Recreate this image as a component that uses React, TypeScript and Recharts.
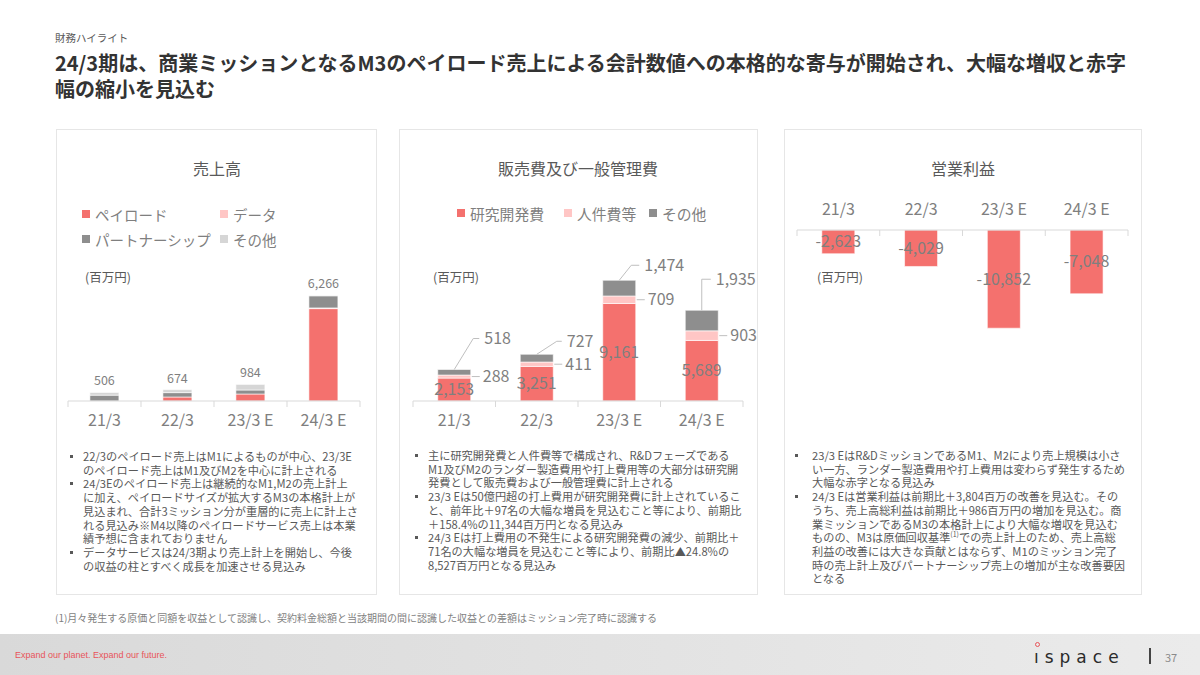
import React from "react";
import { Bar, BarChart, LabelList, XAxis, YAxis } from "recharts";

const PERIODS = ["21/3", "22/3", "23/3 E", "24/3 E"];

// 売上高 (百万円)
const SALES_PAYLOAD = [0, 237, 415, 5480];
const SALES_DATA = [0, 0, 0, 40];
const SALES_PARTNERSHIP = [346, 260, 237, 720];
const SALES_OTHER = [160, 177, 332, 26];
const SALES_TOTAL = [506, 674, 984, 6266];

// 販売費及び一般管理費 (百万円)
const SGA_RD = [2153, 3251, 9161, 5689];
const SGA_PERSONNEL = [288, 411, 709, 903];
const SGA_OTHER = [518, 727, 1474, 1935];

// 営業利益 (百万円)
const OP_INCOME = [-2623, -4029, -10852, -7048];

const RED = "#F4716E";
const PINK = "#FFC6C5";
const DARK_GRAY = "#8E8E8E";
const LIGHT_GRAY = "#D6D6D6";
const TEXT_GRAY = "#7F7F7F";
const TEXT_DARK = "#595959";
const LINE_GRAY = "#D9D9D9";
const FONT = '"Noto Sans CJK JP", "Noto Sans", sans-serif';

// leader-line placement for the その他 labels (relative to bar top centre)
const SGA_LEADERS = [
  { ex: 19, ey: -31, tx: 30 },
  { ex: 20, ey: -13, tx: 30 },
  { ex: 12, ey: -15, tx: 25 },
  { ex: 0, ey: -31, tx: 14 },
];

const salesRows = PERIODS.map((period, i) => ({
  period,
  pl: SALES_PAYLOAD[i],
  dt: SALES_DATA[i],
  pt: SALES_PARTNERSHIP[i],
  ot: SALES_OTHER[i],
}));

const sgaRows = PERIODS.map((period, i) => ({
  period,
  rd: SGA_RD[i],
  hr: SGA_PERSONNEL[i],
  ot: SGA_OTHER[i],
}));

const opRows = PERIODS.map((period, i) => ({ period, op: OP_INCOME[i] }));

const fmt = (v: number) => v.toLocaleString("en-US");

function box(p: any) {
  const v = p.viewBox && p.viewBox.width != null ? p.viewBox : p;
  return {
    x: Number(v.x ?? 0),
    y: Number(v.y ?? 0),
    width: Number(v.width ?? 0),
    height: Number(v.height ?? 0),
  };
}

function CategoryTick(props: any) {
  const { x, y, payload, index, band, top } = props;
  const last = index === PERIODS.length - 1;
  return (
    <g>
      <line x1={x - band / 2} x2={x - band / 2} y1={y} y2={y + 6} stroke={LINE_GRAY} />
      {last && <line x1={x + band / 2} x2={x + band / 2} y1={y} y2={y + 6} stroke={LINE_GRAY} />}
      <text
        x={x}
        y={top ? y - 15 : y + 25}
        textAnchor="middle"
        fill={TEXT_GRAY}
        fontSize={16}
        fontFamily={FONT}
      >
        {payload.value}
      </text>
    </g>
  );
}

function SalesTotalLabel(props: any) {
  const b = box(props);
  return (
    <text
      x={b.x + b.width / 2}
      y={b.y - 7}
      textAnchor="middle"
      fill={TEXT_GRAY}
      fontSize={12.5}
      fontFamily={FONT}
    >
      {fmt(SALES_TOTAL[props.index])}
    </text>
  );
}

function CenterLabel(props: any) {
  const b = box(props);
  return (
    <text
      x={b.x + b.width / 2}
      y={b.y + b.height / 2}
      dy={5.5}
      textAnchor="middle"
      fill={TEXT_GRAY}
      fontSize={16}
      fontFamily={FONT}
    >
      {fmt(Number(props.value))}
    </text>
  );
}

function SideLabel(props: any) {
  const b = box(props);
  const cy = b.y + b.height / 2;
  const rx = b.x + b.width;
  return (
    <g>
      <line x1={rx + 1} x2={rx + 9} y1={cy} y2={cy} stroke="#BFBFBF" />
      <text x={rx + 12} y={cy} dy={5.5} fill={TEXT_GRAY} fontSize={16} fontFamily={FONT}>
        {fmt(Number(props.value))}
      </text>
    </g>
  );
}

function LeaderLabel(props: any) {
  const b = box(props);
  const o = SGA_LEADERS[props.index];
  const cx = b.x + b.width / 2;
  const top = b.y;
  const ly = top + o.ey;
  return (
    <g>
      <polyline
        points={`${cx},${top} ${cx + o.ex},${ly} ${cx + o.tx - 5},${ly}`}
        fill="none"
        stroke="#BFBFBF"
      />
      <text x={cx + o.tx} y={ly} dy={5.5} fill={TEXT_GRAY} fontSize={16} fontFamily={FONT}>
        {fmt(Number(props.value))}
      </text>
    </g>
  );
}

function LegendItem({ color, label, x, y, size }: any) {
  return (
    <div
      style={{
        position: "absolute",
        left: x,
        top: y - 11,
        height: 22,
        display: "flex",
        alignItems: "center",
        fontSize: size,
        color: TEXT_GRAY,
        whiteSpace: "nowrap",
      }}
    >
      <span style={{ width: 8, height: 8, background: color, marginRight: 5, display: "inline-block" }} />
      {label}
    </div>
  );
}

function Bullets({ left, top, pad, items }: any) {
  return (
    <div
      style={{
        position: "absolute",
        left,
        top,
        fontSize: 11.2,
        lineHeight: "13.7px",
        color: TEXT_DARK,
        whiteSpace: "nowrap",
      }}
    >
      {items.map((lines: React.ReactNode[], i: number) => (
        <div key={i} style={{ position: "relative", paddingLeft: pad }}>
          <span
            style={{
              position: "absolute",
              left: 0,
              top: 5,
              width: 3,
              height: 3,
              background: TEXT_DARK,
            }}
          />
          {lines.map((l, j) => (
            <div key={j}>{l}</div>
          ))}
        </div>
      ))}
    </div>
  );
}

const Panel = ({ left, width }: { left: number; width: number }) => (
  <div
    style={{
      position: "absolute",
      left,
      top: 129,
      width,
      height: 466,
      boxSizing: "border-box",
      border: "1.5px solid #E6E6E6",
      background: "#fff",
    }}
  />
);

const centered = (x: number, y: number, size: number, text: string) => (
  <div
    style={{
      position: "absolute",
      left: x - 150,
      width: 300,
      top: y - size * 0.75,
      textAlign: "center",
      fontSize: size,
      color: TEXT_DARK,
      lineHeight: `${size * 1.5}px`,
    }}
  >
    {text}
  </div>
);

const unit = (x: number, y: number) => (
  <div style={{ position: "absolute", left: x, top: y - 9, fontSize: 12.5, color: TEXT_DARK, lineHeight: "18px" }}>
    (百万円)
  </div>
);

export default function App() {
  return (
    <div
      style={{
        position: "absolute",
        left: 0,
        top: 0,
        width: 1200,
        height: 675,
        overflow: "hidden",
        background: "#fff",
        fontFamily: FONT,
      }}
    >
      <div style={{ position: "absolute", left: 55, top: 31, fontSize: 10.5, color: TEXT_DARK, lineHeight: "14px" }}>
        財務ハイライト
      </div>
      <div
        style={{
          position: "absolute",
          left: 55,
          top: 51,
          fontSize: 20,
          fontWeight: 700,
          color: "#333",
          lineHeight: "24px",
          whiteSpace: "nowrap",
        }}
      >
        24/3期は、商業ミッションとなるM3のペイロード売上による会計数値への本格的な寄与が開始され、大幅な増収と赤字
      </div>
      <div
        style={{
          position: "absolute",
          left: 55,
          top: 77,
          fontSize: 20,
          fontWeight: 700,
          color: "#333",
          lineHeight: "24px",
          whiteSpace: "nowrap",
        }}
      >
        幅の縮小を見込む
      </div>

      <Panel left={56} width={321} />
      <Panel left={399} width={359} />
      <Panel left={784} width={358} />

      {centered(217, 168, 16, "売上高")}
      {centered(578, 168, 16, "販売費及び一般管理費")}
      {centered(963, 168, 16, "営業利益")}

      <LegendItem color={RED} label="ペイロード" x={82} y={214} size={14.5} />
      <LegendItem color={PINK} label="データ" x={220} y={214} size={14.5} />
      <LegendItem color={DARK_GRAY} label="パートナーシップ" x={82} y={239} size={14.5} />
      <LegendItem color={LIGHT_GRAY} label="その他" x={220} y={239} size={14.5} />

      <LegendItem color={RED} label="研究開発費" x={457} y={213} size={14.8} />
      <LegendItem color={PINK} label="人件費等" x={564} y={213} size={14.8} />
      <LegendItem color={DARK_GRAY} label="その他" x={649} y={213} size={14.8} />

      {unit(85, 277)}
      {unit(433, 277)}

      <div style={{ position: "absolute", left: 56, top: 263 }}>
        <BarChart
          width={321}
          height={168}
          data={salesRows}
          margin={{ top: 20, right: 17, bottom: 0, left: 12 }}
          barCategoryGap="30%"
        >
          <YAxis hide domain={[0, 7000]} />
          <XAxis
            dataKey="period"
            height={30}
            interval={0}
            tickSize={0}
            tickMargin={0}
            tickLine={false}
            axisLine={{ stroke: LINE_GRAY }}
            tick={<CategoryTick band={73} />}
          />
          <Bar dataKey="pl" stackId="s" fill={RED} stroke="#fff" strokeWidth={0.6} isAnimationActive={false} />
          <Bar dataKey="dt" stackId="s" fill={PINK} stroke="#fff" strokeWidth={0.6} isAnimationActive={false} />
          <Bar dataKey="pt" stackId="s" fill={DARK_GRAY} stroke="#fff" strokeWidth={0.6} isAnimationActive={false} />
          <Bar dataKey="ot" stackId="s" fill={LIGHT_GRAY} stroke="#fff" strokeWidth={0.6} isAnimationActive={false}>
            <LabelList dataKey="ot" content={<SalesTotalLabel />} />
          </Bar>
        </BarChart>
      </div>

      <div style={{ position: "absolute", left: 399, top: 240 }}>
        <BarChart
          width={359}
          height={191}
          data={sgaRows}
          margin={{ top: 12, right: 15, bottom: 0, left: 14 }}
          barCategoryGap="30%"
        >
          <YAxis hide domain={[0, 14000]} />
          <XAxis
            dataKey="period"
            height={30}
            interval={0}
            tickSize={0}
            tickMargin={0}
            tickLine={false}
            axisLine={{ stroke: LINE_GRAY }}
            tick={<CategoryTick band={82.5} />}
          />
          <Bar dataKey="rd" stackId="s" fill={RED} stroke="#fff" strokeWidth={0.6} isAnimationActive={false}>
            <LabelList dataKey="rd" content={<CenterLabel />} />
          </Bar>
          <Bar dataKey="hr" stackId="s" fill={PINK} stroke="#fff" strokeWidth={0.6} isAnimationActive={false}>
            <LabelList dataKey="hr" content={<SideLabel />} />
          </Bar>
          <Bar dataKey="ot" stackId="s" fill={DARK_GRAY} stroke="#fff" strokeWidth={0.6} isAnimationActive={false}>
            <LabelList dataKey="ot" content={<LeaderLabel />} />
          </Bar>
        </BarChart>
      </div>

      <div style={{ position: "absolute", left: 784, top: 190 }}>
        <BarChart
          width={358}
          height={221}
          data={opRows}
          margin={{ top: 0, right: 14, bottom: 0, left: 13 }}
          barCategoryGap="30%"
        >
          <YAxis hide domain={[-20000, 0]} />
          <XAxis
            dataKey="period"
            orientation="top"
            height={40}
            interval={0}
            tickSize={0}
            tickMargin={0}
            tickLine={false}
            axisLine={{ stroke: LINE_GRAY }}
            tick={<CategoryTick band={82.75} top />}
          />
          <Bar dataKey="op" fill={RED} stroke="#fff" strokeWidth={0.6} isAnimationActive={false}>
            <LabelList dataKey="op" content={<CenterLabel />} />
          </Bar>
        </BarChart>
      </div>
      {unit(817, 277)}

      <Bullets
        left={70}
        top={450}
        pad={13}
        items={[
          ["22/3のペイロード売上はM1によるものが中心、23/3E", "のペイロード売上はM1及びM2を中心に計上される"],
          [
            "24/3Eのペイロード売上は継続的なM1,M2の売上計上",
            "に加え、ペイロードサイズが拡大するM3の本格計上が",
            "見込まれ、合計3ミッション分が重層的に売上に計上さ",
            "れる見込み※M4以降のペイロードサービス売上は本業",
            "績予想に含まれておりません",
          ],
          ["データサービスは24/3期より売上計上を開始し、今後", "の収益の柱とすべく成長を加速させる見込み"],
        ]}
      />
      <Bullets
        left={415}
        top={449}
        pad={13}
        items={[
          [
            "主に研究開発費と人件費等で構成され、R&Dフェーズである",
            "M1及びM2のランダー製造費用や打上費用等の大部分は研究開",
            "発費として販売費および一般管理費に計上される",
          ],
          [
            "23/3 Eは50億円超の打上費用が研究開発費に計上されているこ",
            "と、前年比＋97名の大幅な増員を見込むこと等により、前期比",
            "＋158.4%の11,344百万円となる見込み",
          ],
          [
            "24/3 Eは打上費用の不発生による研究開発費の減少、前期比＋",
            "71名の大幅な増員を見込むこと等により、前期比▲24.8%の",
            "8,527百万円となる見込み",
          ],
        ]}
      />
      <Bullets
        left={795}
        top={449}
        pad={17}
        items={[
          [
            "23/3 EはR&DミッションであるM1、M2により売上規模は小さ",
            "い一方、ランダー製造費用や打上費用は変わらず発生するため",
            "大幅な赤字となる見込み",
          ],
          [
            "24/3 Eは営業利益は前期比＋3,804百万の改善を見込む。その",
            "うち、売上高総利益は前期比＋986百万円の増加を見込む。商",
            "業ミッションであるM3の本格計上により大幅な増収を見込む",
            <>
              ものの、M3は原価回収基準<sup style={{ fontSize: 7, lineHeight: 0 }}>(1)</sup>での売上計上のため、売上高総
            </>,
            "利益の改善には大きな貢献とはならず、M1のミッション完了",
            "時の売上計上及びパートナーシップ売上の増加が主な改善要因",
            "となる",
          ],
        ]}
      />

      <div style={{ position: "absolute", left: 55, top: 611, fontSize: 10, color: TEXT_GRAY, lineHeight: "14px", whiteSpace: "nowrap" }}>
        (1)月々発生する原価と同額を収益として認識し、契約料金総額と当該期間の間に認識した収益との差額はミッション完了時に認識する
      </div>

      <div
        style={{
          position: "absolute",
          left: 0,
          top: 634,
          width: 1200,
          height: 41,
          background: "linear-gradient(to right, #D9D9D9, #EBEBEB)",
        }}
      />
      <div
        style={{
          position: "absolute",
          left: 15,
          top: 649,
          fontSize: 9,
          color: "#E8545A",
          lineHeight: "12px",
          fontFamily: '"Liberation Sans Narrow", "Liberation Sans", sans-serif',
          whiteSpace: "nowrap",
        }}
      >
        Expand our planet. Expand our future.
      </div>
      <div
        style={{
          position: "absolute",
          left: 1034,
          top: 646,
          fontSize: 17,
          color: "#2B2B2B",
          letterSpacing: 6,
          lineHeight: "22px",
          fontFamily: '"DejaVu Sans", sans-serif',
        }}
      >
        ıspace
      </div>
      <div
        style={{
          position: "absolute",
          left: 1035,
          top: 642,
          width: 5,
          height: 5,
          borderRadius: "50%",
          border: "1.2px solid #E8545A",
          boxSizing: "border-box",
        }}
      />
      <div style={{ position: "absolute", left: 1149, top: 648, width: 1.5, height: 16, background: "#444" }} />
      <div style={{ position: "absolute", left: 1165, top: 650, fontSize: 11, color: "#8A8A8A", lineHeight: "14px" }}>37</div>
    </div>
  );
}
